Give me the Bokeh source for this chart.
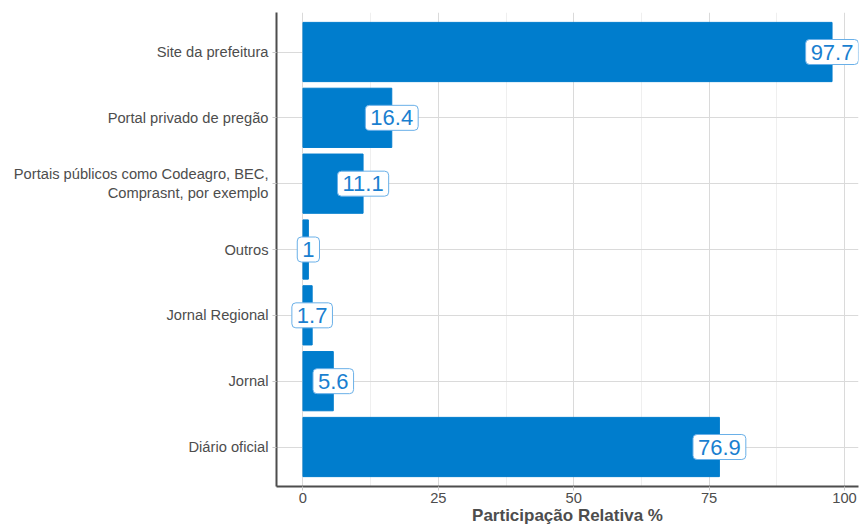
from bokeh.plotting import figure
from bokeh.models import FactorRange, Range1d, FixedTicker, ColumnDataSource
from bokeh.core.properties import value
from bokeh.embed import file_html
from bokeh.resources import INLINE

categories = ["Diário oficial", "Jornal", "Jornal Regional", "Outros",
              "Portais públicos como Codeagro, BEC,\nComprasnt, por exemplo",
              "Portal privado de pregão", "Site da prefeitura"]
values = [76.9, 5.6, 1.7, 1.0, 11.1, 16.4, 97.7]
labels = ["76.9", "5.6", "1.7", "1", "11.1", "16.4", "97.7"]
x_ticks = [0, 25, 50, 75, 100]
x_minor = [12.5, 37.5, 62.5, 87.5]

FONT = "Liberation Sans"
BAR = "#007DCD"

src = ColumnDataSource(dict(cat=categories, val=values, lab=labels))

p = figure(width=860, height=527,
           y_range=FactorRange(factors=categories, range_padding=0.1,
                               range_padding_units="absolute"),
           x_range=Range1d(-4.885, 102.585),
           output_backend="svg", toolbar_location=None,
           min_border_left=276, min_border_right=2, min_border_top=12,
           min_border_bottom=39)

p.outline_line_color = None
p.background_fill_color = "white"

p.xgrid.grid_line_color = "#dadada"
p.xgrid.minor_grid_line_color = "#efefef"
p.ygrid.grid_line_color = "#dadada"

p.hbar(y="cat", left=0, right="val", height=0.9, color=BAR, source=src)

p.text(x="val", y="cat", text="lab", source=src,
       text_align="center", text_baseline="middle",
       text_font=value(FONT), text_font_size="22px", text_color="#1a7fd0",
       background_fill_color="white", border_line_color="#6ab0e8",
       border_line_width=1, border_radius=4,
       padding=dict(left=5, right=5, top=5, bottom=5))

p.xaxis.ticker = FixedTicker(ticks=x_ticks, minor_ticks=x_minor)
p.xaxis.axis_label = "Participação Relativa %"
p.xaxis.axis_label_text_font = FONT
p.xaxis.axis_label_text_font_style = "bold"
p.xaxis.axis_label_text_font_size = "17px"
p.xaxis.axis_label_text_color = "#4d4d4d"
p.xaxis.axis_label_standoff = 0

for ax in (p.xaxis, p.yaxis):
    ax.axis_line_color = "#4d4d4d"
    ax.axis_line_width = 2
    ax.major_tick_line_color = "#c8c8c8"
    ax.major_tick_out = 4
    ax.major_tick_in = 0
    ax.minor_tick_line_color = None
    ax.major_label_text_font = FONT
    ax.major_label_text_font_size = "14.7px"
    ax.major_label_text_color = "#4d4d4d"
    ax.major_label_standoff = 2

p.yaxis.major_label_standoff = 4

open("out.html", "w").write(file_html(p, INLINE))
